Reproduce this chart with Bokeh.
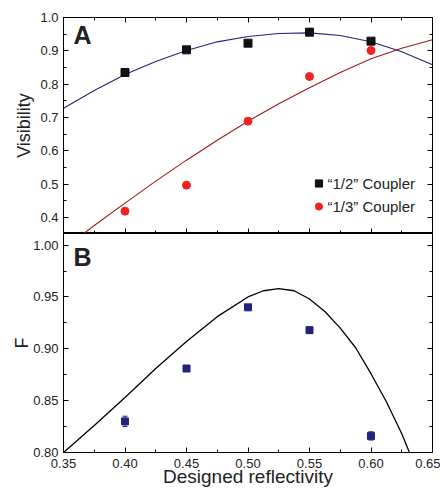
from bokeh.plotting import figure
from bokeh.layouts import column
from bokeh.models import (LinearAxis, Range1d, ColumnDataSource, Whisker, Label,
                          SingleIntervalTicker, Legend, LegendItem, TeeHead,
                          NumeralTickFormatter, CustomJSTickFormatter)
from bokeh.embed import file_html
from bokeh.resources import INLINE

# ---------------- data ----------------
reflectivity = [0.40, 0.45, 0.50, 0.55, 0.60]
vis_half = [0.835, 0.903, 0.923, 0.956, 0.929]
vis_half_err = [0.004, 0.008, 0.005, 0.010, 0.006]
vis_third = [0.419, 0.497, 0.689, 0.823, 0.901]
vis_third_err = [0.003, 0.003, 0.003, 0.004, 0.008]
F_vals = [0.830, 0.881, 0.940, 0.918, 0.816]
F_err = [0.005, 0.002, 0.002, 0.003, 0.004]

fit_x = [0.35, 0.375, 0.40, 0.425, 0.45, 0.475, 0.50, 0.525, 0.55, 0.575, 0.60, 0.625, 0.65]
fit_half = [0.728, 0.781, 0.829, 0.868, 0.901, 0.927, 0.943, 0.952, 0.954, 0.946, 0.927, 0.897, 0.858]
fit_third = [0.305, 0.376, 0.443, 0.509, 0.572, 0.632, 0.689, 0.741, 0.789, 0.835, 0.876, 0.908, 0.933]

theory_x = [0.35, 0.375, 0.40, 0.425, 0.45, 0.475, 0.50, 0.5125, 0.525, 0.5375,
            0.55, 0.5625, 0.575, 0.5875, 0.60, 0.6125, 0.625, 0.6375]
theory_F = [0.800, 0.826, 0.853, 0.881, 0.907, 0.931, 0.950, 0.956, 0.958, 0.956,
            0.948, 0.936, 0.920, 0.901, 0.876, 0.849, 0.818, 0.782]

x_ticks_interval = 0.05
FONT = "Liberation Sans"
blank = CustomJSTickFormatter(code="return ''")

# ---------------- helpers ----------------
def style_axis(ax, labels=True):
    ax.axis_line_color = "black"
    ax.axis_line_width = 1
    ax.major_tick_in = 5
    ax.major_tick_out = 0
    ax.minor_tick_in = 3
    ax.minor_tick_out = 0
    ax.major_tick_line_color = "black"
    ax.minor_tick_line_color = "black"
    ax.major_label_text_font = FONT
    ax.major_label_text_color = "#222222"
    ax.axis_label_text_font = FONT
    ax.axis_label_text_font_style = "normal"
    ax.axis_label_text_font_size = "18px"
    ax.axis_label_text_color = "#222222"
    if labels:
        ax.major_label_text_font_size = "13px"
        ax.major_label_standoff = 5
    else:
        ax.formatter = blank
        ax.major_label_text_font_size = "1px"
        ax.major_label_standoff = 0


x_range = Range1d(0.35, 0.65)

# ---------------- panel A ----------------
pA = figure(width=440, height=233, x_range=x_range, y_range=Range1d(0.352, 1.0),
            output_backend="svg", toolbar_location=None,
            min_border_left=63, min_border_right=8, min_border_top=17, min_border_bottom=0,
            x_axis_location=None, y_axis_location=None)
pA.outline_line_color = "black"
pA.xgrid.visible = False
pA.ygrid.visible = False
pA.background_fill_color = "white"
pA.border_fill_color = "white"

yA_ticker = SingleIntervalTicker(interval=0.1, num_minor_ticks=2)
xt = SingleIntervalTicker(interval=x_ticks_interval, num_minor_ticks=2)

axA_left = LinearAxis(ticker=yA_ticker, axis_label="Visibility",
                      formatter=NumeralTickFormatter(format="0.0"))
style_axis(axA_left)
axA_left.axis_label_standoff = 3
pA.add_layout(axA_left, "left")
axA_right = LinearAxis(ticker=yA_ticker)
style_axis(axA_right, labels=False)
pA.add_layout(axA_right, "right")
axA_top = LinearAxis(ticker=xt)
style_axis(axA_top, labels=False)
pA.add_layout(axA_top, "above")
axA_bot = LinearAxis(ticker=xt)
style_axis(axA_bot, labels=False)
pA.add_layout(axA_bot, "below")

pA.line(fit_x, fit_half, line_color="#23237e", line_width=1.1)
pA.line(fit_x, fit_third, line_color="#9b1b1b", line_width=1.1)

srcA1 = ColumnDataSource(dict(x=reflectivity, y=vis_half,
                              lo=[v - e for v, e in zip(vis_half, vis_half_err)],
                              hi=[v + e for v, e in zip(vis_half, vis_half_err)]))
srcA2 = ColumnDataSource(dict(x=reflectivity, y=vis_third,
                              lo=[v - e for v, e in zip(vis_third, vis_third_err)],
                              hi=[v + e for v, e in zip(vis_third, vis_third_err)]))
pA.add_layout(Whisker(source=srcA1, base="x", lower="lo", upper="hi", line_color="black",
                      upper_head=TeeHead(size=5, line_color="black"),
                      lower_head=TeeHead(size=5, line_color="black")))
pA.add_layout(Whisker(source=srcA2, base="x", lower="lo", upper="hi", line_color="#ee2222",
                      upper_head=TeeHead(size=5, line_color="#ee2222"),
                      lower_head=TeeHead(size=5, line_color="#ee2222")))
rA1 = pA.scatter("x", "y", source=srcA1, marker="square", size=8,
                 fill_color="#111111", line_color="#111111")
rA2 = pA.scatter("x", "y", source=srcA2, marker="circle", size=8,
                 fill_color="#ee2222", line_color="#ee2222")

legend = Legend(items=[LegendItem(label="\u201c1/2\u201d Coupler", renderers=[rA1]),
                       LegendItem(label="\u201c1/3\u201d Coupler", renderers=[rA2])],
                location="bottom_right", border_line_color=None,
                background_fill_alpha=0, label_text_font=FONT,
                label_text_font_size="15px", label_text_color="#222222",
                glyph_width=18, glyph_height=18, label_standoff=0,
                label_height=20, spacing=3, padding=0, margin=17)
pA.add_layout(legend)

pA.add_layout(Label(x=10, y=216 - 3.5, x_units="screen", y_units="screen", text="A",
                    text_font=FONT, text_font_style="bold", text_font_size="25px",
                    text_baseline="top", text_color="#222222"))

# ---------------- panel B ----------------
pB = figure(width=440, height=259, x_range=x_range, y_range=Range1d(0.80, 1.0112),
            output_backend="svg", toolbar_location=None,
            min_border_left=63, min_border_right=8, min_border_top=0, min_border_bottom=40,
            x_axis_location=None, y_axis_location=None)
pB.outline_line_color = "black"
pB.xgrid.visible = False
pB.ygrid.visible = False
pB.background_fill_color = "white"
pB.border_fill_color = "white"

yB_ticker = SingleIntervalTicker(interval=0.05, num_minor_ticks=2)
axB_left = LinearAxis(ticker=yB_ticker, axis_label="F",
                      formatter=NumeralTickFormatter(format="0.00"))
style_axis(axB_left)
axB_left.axis_label_standoff = -2
pB.add_layout(axB_left, "left")
axB_right = LinearAxis(ticker=yB_ticker)
style_axis(axB_right, labels=False)
pB.add_layout(axB_right, "right")
axB_bot = LinearAxis(ticker=xt, axis_label="Designed reflectivity",
                     formatter=NumeralTickFormatter(format="0.00"))
style_axis(axB_bot)
axB_bot.major_label_standoff = 6
axB_bot.axis_label_text_font_size = "19px"
axB_bot.axis_label_standoff = -5
pB.add_layout(axB_bot, "below")

pB.line(theory_x, theory_F, line_color="black", line_width=1.3)
srcB = ColumnDataSource(dict(x=reflectivity, y=F_vals,
                             lo=[v - e for v, e in zip(F_vals, F_err)],
                             hi=[v + e for v, e in zip(F_vals, F_err)]))
pB.add_layout(Whisker(source=srcB, base="x", lower="lo", upper="hi", line_color="#23237e",
                      upper_head=TeeHead(size=5, line_color="#23237e"),
                      lower_head=TeeHead(size=5, line_color="#23237e")))
pB.scatter("x", "y", source=srcB, marker="square", size=7,
           fill_color="#23237e", line_color="#23237e")

pB.add_layout(Label(x=10, y=219 - 9.5, x_units="screen", y_units="screen", text="B",
                    text_font=FONT, text_font_style="bold", text_font_size="25px",
                    text_baseline="top", text_color="#222222"))

layout = column(pA, pB, spacing=0)
open("out.html", "w").write(file_html(layout, INLINE))
